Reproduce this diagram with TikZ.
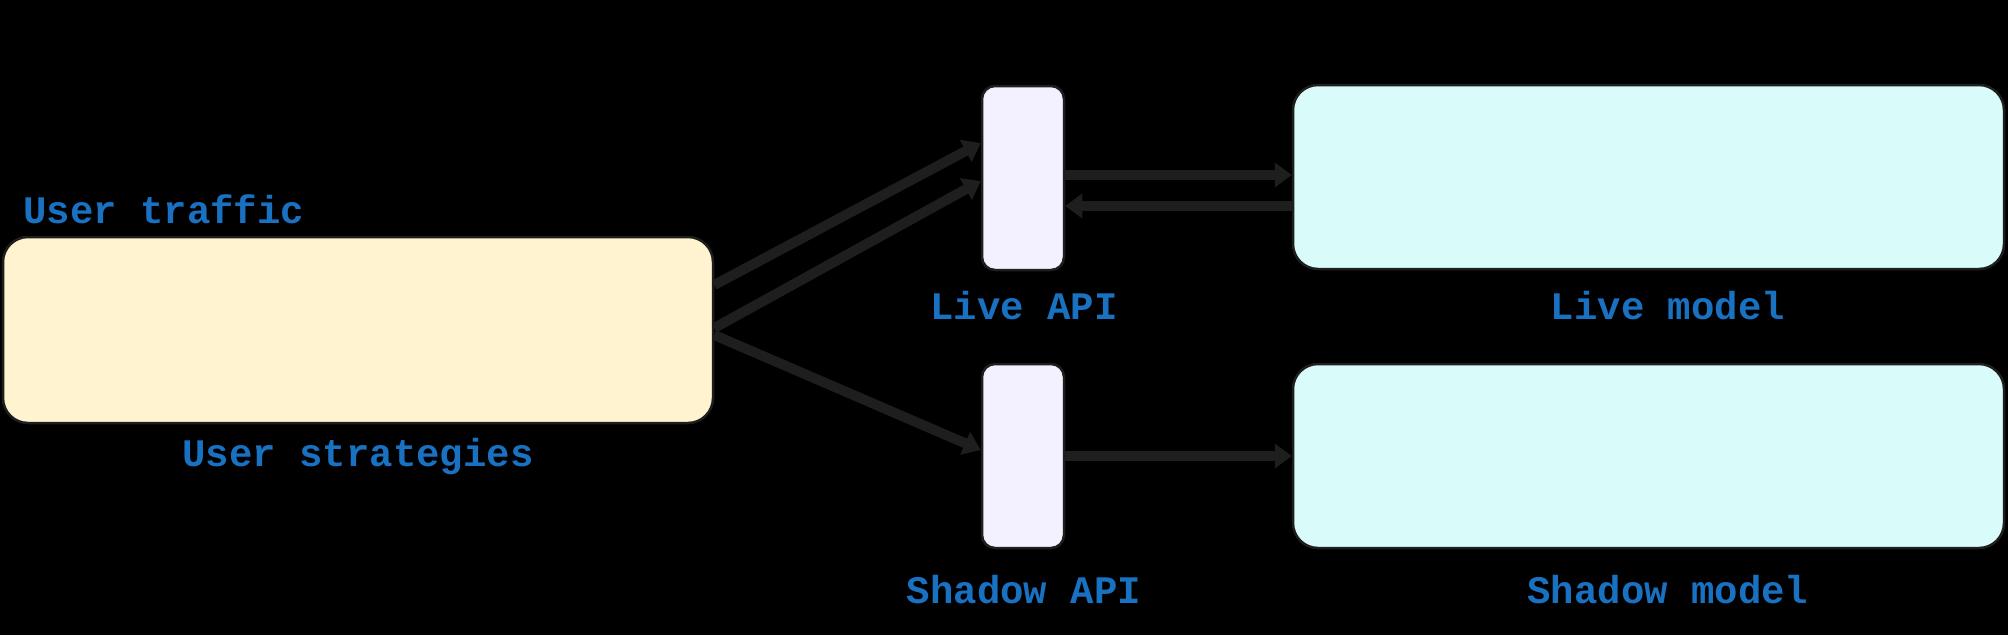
\documentclass[tikz,border=0pt]{standalone}
\usepackage{fontspec}
\usetikzlibrary{arrows.meta,positioning}
\newfontfamily\lblfont{Liberation Mono}
\definecolor{ink}{HTML}{1E1E1E}
\definecolor{lblblue}{HTML}{1971C2}
\definecolor{userfill}{HTML}{FFF3D0}
\definecolor{apifill}{HTML}{F3F0FF}
\definecolor{modelfill}{HTML}{D9FBFA}
\tikzset{
  boxbase/.style={draw=ink, line width=2.5pt, inner sep=0pt, anchor=center},
  userbox/.style={boxbase, fill=userfill, rounded corners=25pt, minimum width=710pt, minimum height=186pt},
  apibox/.style={boxbase, fill=apifill, rounded corners=13pt, minimum width=82pt, minimum height=184pt},
  modelbox/.style={boxbase, fill=modelfill, rounded corners=25pt, minimum width=711pt, minimum height=184pt},
  lbl/.style={text=lblblue, font=\lblfont\bfseries\fontsize{39}{39}\selectfont, inner sep=0pt},
  conn/.style={draw=ink, line width=10pt, -{Triangle[length=17pt,width=24pt]}},
}
\begin{document}
\begin{tikzpicture}[x=1pt,y=-1pt]
\fill[black] (0,0) rectangle (2008,635);
\useasboundingbox (0,0) rectangle (2008,635);
% boxes
\node[userbox] (user) at (358,330) {};
\node[apibox] (liveapi) at (1023,178) {};
\node[apibox] (shadowapi) at (1023,456) {};
\node[modelbox] (livemodel) at (1648.5,177) {};
\node[modelbox] (shadowmodel) at (1648.5,456) {};
% labels
\node[lbl, anchor=west] (tUserTraffic) at (23,209) {User traffic};
\node[lbl] (tUserStrat) at (358,456) {User strategies};
\node[lbl] (tLiveAPI) at (1024,306) {Live API};
\node[lbl] (tShadowAPI) at (1024,590) {Shadow API};
\node[lbl] (tLiveModel) at (1668,306) {Live model};
\node[lbl] (tShadowModel) at (1668,590) {Shadow model};
% connectors
\draw[conn] ([yshift=45pt]user.east) -- ([yshift=35pt]liveapi.west);
\draw[conn] ([yshift=2pt]user.east) -- ([yshift=-3pt]liveapi.west);
\draw[conn] ([yshift=-5pt]user.east) -- ([yshift=6pt]shadowapi.west);
\draw[conn] ([yshift=3pt]liveapi.east) -- ([yshift=3pt]liveapi.east -| livemodel.west);
\draw[conn] ([yshift=-28pt]liveapi.east -| livemodel.west) -- ([yshift=-28pt]liveapi.east);
\draw[conn] (shadowapi.east) -- (shadowapi.east -| shadowmodel.west);
\end{tikzpicture}
\end{document}
